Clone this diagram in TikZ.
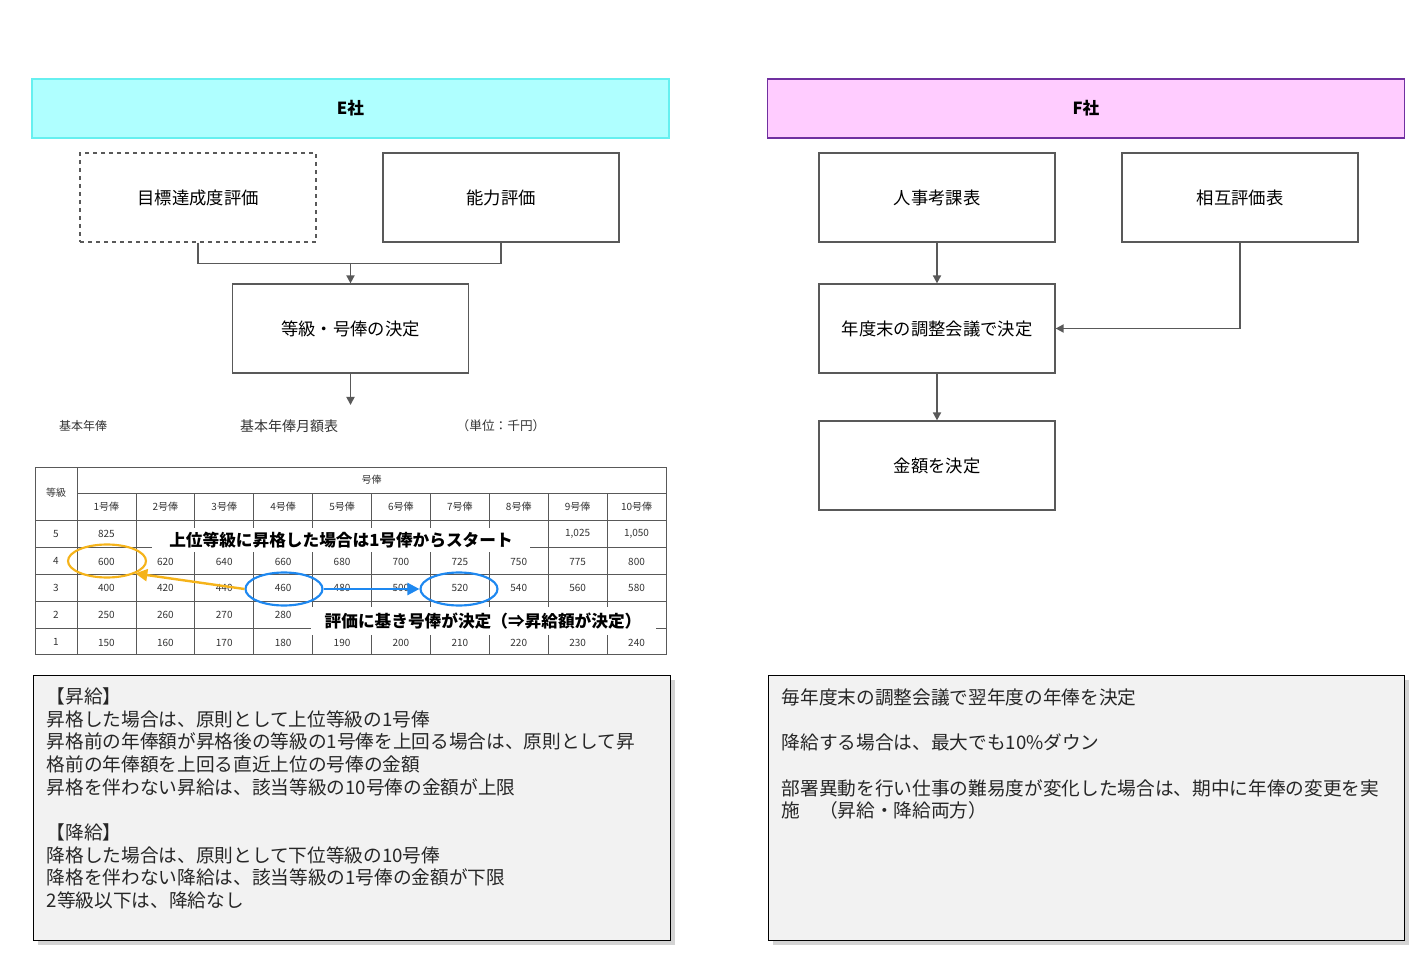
\documentclass[tikz,border=0pt]{standalone}
\usepackage{fontspec}
\setmainfont{Noto Sans CJK JP}
\usetikzlibrary{arrows.meta,shadows,shapes.geometric}
\definecolor{hdrE}{HTML}{AFFFFF}
\definecolor{hdrEb}{HTML}{66F0F0}
\definecolor{hdrF}{HTML}{FFCCFF}
\definecolor{hdrFb}{HTML}{7030A0}
\definecolor{gline}{HTML}{595959}
\definecolor{orng}{HTML}{F5B31A}
\definecolor{blu}{HTML}{1E88F0}
\definecolor{noteBg}{HTML}{F2F2F2}
\tikzset{
 hdr/.style={draw, line width=1pt, minimum width=637*0.75pt, minimum height=59*0.75pt, font=\fontsize{12.5}{14}\selectfont\bfseries},
 flowbox/.style={draw=gline, line width=0.9pt, minimum width=236*0.75pt, minimum height=89*0.75pt, font=\fontsize{13}{14}\selectfont},
 arr/.style={-{Triangle[length=6pt,width=6pt]}, draw=gline, line width=1.3pt},
 cell/.style={font=\fontsize{7.5}{8}\selectfont, text=black!80},
 note/.style={draw=black, line width=1pt, fill=noteBg, drop shadow={shadow xshift=3pt, shadow yshift=-3pt, opacity=0.35}},
 notetext/.style={anchor=north west, align=left, font=\fontsize{14}{17}\selectfont, text=black!85},
 callout/.style={fill=white, inner sep=0pt, font=\fontsize{12.5}{14}\selectfont\bfseries}
}
\begin{document}
\begin{tikzpicture}[x=0.75pt,y=-0.75pt]
\useasboundingbox (0,0) rectangle (1428,955);
% headers
\node[hdr, draw=hdrEb, fill=hdrE] (he) at (350.5,108.5) {E社};
\node[hdr, draw=hdrFb, fill=hdrF] (hf) at (1086,108.5) {F社};
% E flow
\node[flowbox, dashed] (mk) at (198,197.5) {目標達成度評価};
\node[flowbox] (nr) at (501,197.5) {能力評価};
\node[flowbox] (tk) at (350.5,328.5) {等級・号俸の決定};
\coordinate (tend) at (350.5,405);
\draw[draw=gline, line width=1.3pt] (mk.south) -- ++(0,21) -| (nr.south);
\draw[arr] (350.5,263) -- (tk.north);
\draw[arr] (tk.south) -- (tend);
% F flow
\node[flowbox] (jk) at (937,197.5) {人事考課表};
\node[flowbox] (sg) at (1240,197.5) {相互評価表};
\node[flowbox] (cc) at (937,328.5) {年度末の調整会議で決定};
\node[flowbox] (kg) at (937,465.5) {金額を決定};
\draw[arr] (jk.south) -- (cc.north);
\draw[arr] (sg.south) |- (cc.east);
\draw[arr] (cc.south) -- (kg.north);
% table captions
\node[font=\fontsize{9}{10}\selectfont, text=black!80] (c1) at (83,426) {基本年俸};
\node[font=\fontsize{10.5}{11}\selectfont, text=black!80] (c2) at (289,426) {基本年俸月額表};
\node[font=\fontsize{9.5}{10}\selectfont, text=black!80] (c3) at (501,426) {（単位：千円）};
% table
\draw[gline, line width=0.6pt] (35,467) rectangle (666,654);
\draw[gline, line width=0.6pt] (77,493) -- (666,493);
\foreach \y in {520,547,574,601,628} \draw[gline, line width=0.6pt] (35,\y) -- (666,\y);
\draw[gline, line width=0.6pt] (77,467) -- (77,654);
\foreach \i in {1,...,9} \draw[gline, line width=0.6pt] ({77+58.9*\i},493) -- ({77+58.9*\i},654);
\node[cell] (tg) at (56,493) {等級};
\node[cell] (th) at (371.5,480) {号俸};
\foreach \i in {1,...,10} \node[cell] at ({77+58.9*(\i-0.5)},506.5) {\i 号俸};
\foreach \r [count=\k] in {5,4,3,2,1} \node[cell] at (56,{520+27*(\k-0.5)}) {\r};
\node[cell] (r5a) at ({77+58.9*0.5},533.5) {825};
\node[cell] (r5i) at ({77+58.9*8.5},533.5) {1,025};
\node[cell] (r5j) at ({77+58.9*9.5},533.5) {1,050};
\foreach \v [count=\i] in {600,620,640,660,680,700,725,750,775,800} \node[cell] at ({77+58.9*(\i-0.5)},562) {\v};
\foreach \v [count=\i] in {400,420,440,460,480,500,520,540,560,580} \node[cell] at ({77+58.9*(\i-0.5)},587.5) {\v};
\foreach \v [count=\i] in {250,260,270,280} \node[cell] at ({77+58.9*(\i-0.5)},614.5) {\v};
\foreach \v [count=\i] in {150,160,170,180,190,200,210,220,230,240} \node[cell] at ({77+58.9*(\i-0.5)},642.5) {\v};
% callouts
\node[callout, minimum width=378*0.75pt, minimum height=24*0.75pt] (up) at (341,540) {上位等級に昇格した場合は1号俸からスタート};
\node[callout, minimum width=345*0.75pt, minimum height=28*0.75pt] (ev) at (483,621) {評価に基き号俸が決定（⇒昇給額が決定）};
% ellipses
\node[draw=orng, line width=1.6pt, ellipse, minimum width=78*0.75pt, minimum height=33*0.75pt, inner sep=0pt] (e600) at (107,561) {};
\node[draw=blu, line width=1.6pt, ellipse, minimum width=77*0.75pt, minimum height=33*0.75pt, inner sep=0pt] (e460) at (284,589) {};
\node[draw=blu, line width=1.6pt, ellipse, minimum width=77*0.75pt, minimum height=33*0.75pt, inner sep=0pt] (e520) at (459,589) {};
\draw[-{Triangle[length=9pt,width=9pt]}, draw=orng, line width=1.8pt] (e460.west) -- (e600.south east);
\draw[-{Triangle[length=9pt,width=9pt]}, draw=blu, line width=1.8pt] (e460.east) -- (e520.west);
% notes
\node[note, minimum width=637*0.75pt, minimum height=265*0.75pt, anchor=north west] (nl) at (33,675) {};
\node[notetext] (tl) at (42,683) {【昇給】\\昇格した場合は、原則として上位等級の1号俸\\昇格前の年俸額が昇格後の等級の1号俸を上回る場合は、原則として昇\\格前の年俸額を上回る直近上位の号俸の金額\\昇格を伴わない昇給は、該当等級の10号俸の金額が上限\\[17pt]【降給】\\降格した場合は、原則として下位等級の10号俸\\降格を伴わない降給は、該当等級の1号俸の金額が下限\\2等級以下は、降給なし};
\node[note, minimum width=636*0.75pt, minimum height=265*0.75pt, anchor=north west] (nr2) at (768,675) {};
\node[notetext] (tr) at (777,684) {毎年度末の調整会議で翌年度の年俸を決定\\[17pt]降給する場合は、最大でも10\%ダウン\\[17pt]部署異動を行い仕事の難易度が変化した場合は、期中に年俸の変更を実\\施　（昇給・降給両方）};
\end{tikzpicture}
\end{document}
